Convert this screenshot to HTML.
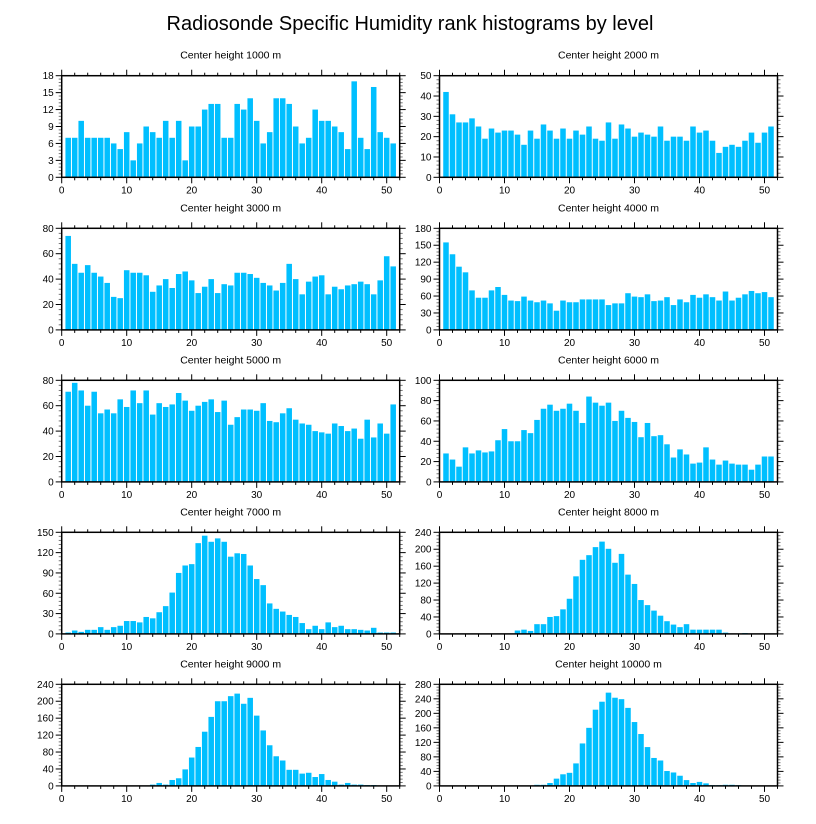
<!DOCTYPE html>
<html><head><meta charset="utf-8">
<style>
html,body{margin:0;padding:0;background:#fff;}
svg{display:block;font-family:"Liberation Sans",Arial,sans-serif;}
</style></head>
<body>
<svg id="chart" width="816" height="824" viewBox="0 0 816 824" xmlns="http://www.w3.org/2000/svg">
<text x="410" y="30" text-anchor="middle" font-size="20" fill="#000">Radiosonde Specific Humidity rank histograms by level</text>
</svg>
<script>
const levels = [1000,2000,3000,4000,5000,6000,7000,8000,9000,10000];
const yMaxes = [18,50,80,180,80,100,150,240,240,280];
const yStepLabels = [3,10,20,30,20,20,30,40,40,40];
const xTicks = [0,10,20,30,40,50];
const h1000 = [7,7,10,7,7,7,7,6,5,8,3,6,9,8,7,10,7,10,3,9,9,12,13,13,7,7,13,12,14,10,6,8,14,14,13,9,6,7,12,10,10,9,8,5,17,7,5,16,8,7,6];
const h2000 = [42,31,27,27,29,25,19,24,22,23,23,21,16,23,19,26,23,19,24,19,23,21,25,19,18,27,19,26,24,20,22,21,20,25,18,20,20,18,25,22,23,18,12,15,16,15,18,22,17,22,25];
const h3000 = [74,52,45,51,45,42,37,26,25,47,45,45,43,30,35,40,33,44,46,39,29,34,40,29,36,35,45,45,44,41,37,35,31,37,52,40,28,38,42,43,28,34,32,35,36,38,36,28,39,58,50];
const h4000 = [155,134,112,102,70,57,57,70,76,62,52,51,59,52,49,52,47,34,52,49,49,54,54,54,54,44,47,47,65,59,58,63,51,52,58,44,54,49,62,57,63,58,52,68,52,57,63,69,65,67,58];
const h5000 = [71,78,72,60,71,54,57,54,65,59,72,62,72,53,62,59,61,70,64,56,60,63,65,55,64,45,51,57,57,56,62,48,47,54,58,49,46,45,40,39,38,46,44,40,42,34,49,35,46,38,61];
const h6000 = [28,22,15,34,28,31,29,30,41,52,40,40,51,48,61,72,76,70,72,77,70,58,84,78,75,78,60,70,63,59,44,58,45,46,37,24,32,27,18,19,34,22,17,21,18,17,17,12,17,25,25];
const h7000 = [2,5,3,6,6,10,6,10,12,19,19,17,25,23,32,41,61,90,101,103,134,145,136,141,136,114,119,118,101,81,72,45,37,33,28,25,16,7,12,7,17,10,12,7,7,6,5,9,2,2,2];
const h8000 = [0,0,0,0,0,0,0,0,0,0,0,8,10,7,23,23,40,42,58,83,136,175,186,205,218,201,168,189,140,118,80,68,55,43,30,22,16,23,10,10,10,10,10,3,0,0,2,0,0,0,0];
const h9000 = [0,0,0,0,0,0,0,0,0,0,0,0,0,3,7,3,14,18,39,67,92,128,163,200,200,212,218,194,208,166,131,96,70,60,38,38,29,31,21,28,14,10,3,7,3,3,2,2,0,0,0];
const h10000 = [0,0,0,0,0,0,0,0,0,0,0,0,0,0,3,3,8,20,32,36,62,117,160,210,232,257,243,239,215,176,143,107,77,70,41,37,28,16,8,11,7,2,2,3,3,2,1,1,1,1,1];
const series = [h1000,h2000,h3000,h4000,h5000,h6000,h7000,h8000,h9000,h10000];

const svg = document.getElementById('chart');
const NS = 'http://www.w3.org/2000/svg';
function mk(tag, attrs, parent){
  const e = document.createElementNS(NS, tag);
  for (const k in attrs) e.setAttribute(k, attrs[k]);
  parent.appendChild(e);
  return e;
}
const XMAX = 52;
const colX = [61.7, 439.5];
const rowTop = [75.7, 228.3, 380.3, 532.3, 684.3];
const PW = 338, PH = 101.6;

for (let p = 0; p < 10; p++) {
  const col = p % 2, row = Math.floor(p / 2);
  const x0 = colX[col], y0 = rowTop[row];
  const xs = v => x0 + v / XMAX * PW;
  const ys = v => y0 + PH - v / yMaxes[p] * PH;
  const g = mk('g', {}, svg);
  
  

  const t = mk('text', {x: x0 + PW/2, y: y0 - 17, 'text-anchor':'middle', 'font-size':'10.5', fill:'#000'}, g);
  
  
  t.textContent = 'Center height ' + levels[p] + ' m';

  const bw = PW / XMAX * 0.85;
  series[p].forEach((v, i) => {
    if (v <= 0) return;
    const r = mk('rect', {x: xs(i+1) - bw/2, y: ys(v), width: bw, height: ys(0) - ys(v), fill:'#00bfff'}, g);
    
    
  });

  // x ticks
  for (let v = 0; v <= XMAX; v += 2) {
    const major = v % 10 === 0;
    const L = major ? 6 : 3;
    mk('line', {x1: xs(v), x2: xs(v), y1: y0, y2: y0 - L, stroke:'#000', 'stroke-width':1}, g);
    mk('line', {x1: xs(v), x2: xs(v), y1: y0 + PH, y2: y0 + PH + L, stroke:'#000', 'stroke-width':1}, g);
  }
  xTicks.forEach(v => {
    const tl = mk('text', {x: xs(v), y: y0 + PH + 16, 'text-anchor':'middle', 'font-size':'10', fill:'#000'}, g);
    
    
    tl.textContent = v;
  });
  // y ticks
  const st = yStepLabels[p], minor = st / 5;
  for (let k = 0; k * minor <= yMaxes[p] + 1e-9; k++) {
    const v = k * minor;
    const major = k % 5 === 0;
    const L = major ? 6 : 3;
    mk('line', {x1: x0, x2: x0 - L, y1: ys(v), y2: ys(v), stroke: major ? '#000' : '#777', 'stroke-width':1}, g);
    mk('line', {x1: x0 + PW, x2: x0 + PW + L, y1: ys(v), y2: ys(v), stroke: major ? '#000' : '#777', 'stroke-width':1}, g);
    if (major) {
      const yl = mk('text', {x: x0 - 8, y: ys(v) + 3.5, 'text-anchor':'end', 'font-size':'10', fill:'#000'}, g);
      
      
      yl.textContent = v;
    }
  }
  const fr = mk('rect', {x: x0, y: y0, width: PW, height: PH, fill:'none', stroke:'#000', 'stroke-width':1.5}, g);
  
  
}
</script>
</body></html>
